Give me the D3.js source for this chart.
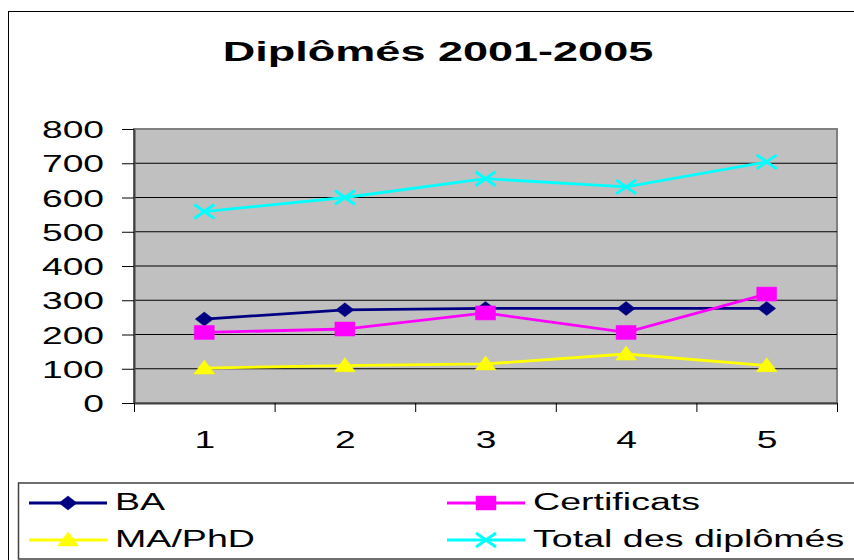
<!DOCTYPE html>
<html lang="fr">
<head>
<meta charset="UTF-8">
<title>Diplômés 2001-2005</title>
<script src="https://d3js.org/d3.v7.min.js"></script>
<style>
    body { margin: 0; background: #fff; }
    svg { display: block; font-family: "Liberation Sans", Arial, sans-serif; }
</style>
</head>
<body>
<svg width="854" height="560"></svg>
<script>
    // données
    const categories = [1, 2, 3, 4, 5];
    const ba = [245, 272, 276, 276, 276];
    const certificats = [206, 216, 263, 206, 318];
    const maPhd = [102, 109, 114, 143, 109];
    const total = [559, 600, 655, 631, 704];
    const yTicks = [0, 100, 200, 300, 400, 500, 600, 700, 800];
    const seriesNames = ["BA", "Certificats", "MA/PhD", "Total des diplômés"];

    const series = [
        { name: seriesNames[0], values: ba, color: "#000080", marker: "diamond" },
        { name: seriesNames[1], values: certificats, color: "#ff00ff", marker: "square" },
        { name: seriesNames[2], values: maPhd, color: "#ffff00", marker: "triangle" },
        { name: seriesNames[3], values: total, color: "#00ffff", marker: "cross" }
    ];

    const stretch = 1.55; // l'image d'origine est étirée horizontalement
    const plot = { left: 134, right: 837, top: 129, bottom: 403 };

    const svg = d3.select("svg");

    // cadre extérieur
    svg.append("rect")
        .attr("x", 8.5).attr("y", 11.5)
        .attr("width", 900).attr("height", 600)
        .attr("fill", "#fff").attr("stroke", "#000").attr("stroke-width", 1);

    // titre
    svg.append("text")
        .attr("transform", `translate(438,61) scale(1.58,1)`)
        .attr("text-anchor", "middle")
        .attr("font-size", 28.5).attr("font-weight", "bold")
        .text("Diplômés 2001-2005");

    const x = d3.scaleLinear().domain([0.5, 5.5]).range([plot.left, plot.right]);
    const y = d3.scaleLinear().domain([0, 800]).range([plot.bottom, plot.top]);

    // zone de traçage
    svg.append("rect")
        .attr("x", plot.left).attr("y", plot.top)
        .attr("width", plot.right - plot.left).attr("height", plot.bottom - plot.top)
        .attr("fill", "#c0c0c0").attr("stroke", "#808080").attr("stroke-width", 2);

    // quadrillage
    svg.append("g").selectAll("line")
        .data(yTicks.filter(d => d > 0 && d < 800))
        .join("line")
        .attr("x1", plot.left).attr("x2", plot.right)
        .attr("y1", d => y(d)).attr("y2", d => y(d))
        .attr("stroke", "#000").attr("stroke-width", 1.2);

    // axe Y
    const yAxis = svg.append("g")
        .attr("transform", `translate(${plot.left},0)`)
        .call(d3.axisLeft(y).tickValues(yTicks).tickSize(12).tickSizeOuter(0));
    yAxis.select(".domain").attr("stroke", "#404040").attr("stroke-width", 2);
    yAxis.selectAll(".tick line").attr("stroke", "#000");
    yAxis.selectAll(".tick text")
        .attr("x", -30 / stretch).attr("dy", "0.36em")
        .attr("transform", `scale(${stretch},1)`)
        .attr("font-size", 24).attr("font-family", "Liberation Sans, Arial, sans-serif")
        .attr("fill", "#000");

    // axe X : graduations aux limites des catégories
    const xTickAxis = svg.append("g")
        .attr("transform", `translate(0,${plot.bottom})`)
        .call(d3.axisBottom(x).tickValues(d3.range(0.5, 6, 1)).tickSize(9).tickSizeOuter(0).tickFormat(""));
    xTickAxis.select(".domain").attr("stroke", "#404040").attr("stroke-width", 2);
    xTickAxis.selectAll(".tick line").attr("stroke", "#000");

    const xLabelAxis = svg.append("g")
        .attr("transform", `translate(0,${plot.bottom})`)
        .call(d3.axisBottom(x).tickValues(categories).tickSize(0).tickFormat(d3.format("d")));
    xLabelAxis.select(".domain").remove();
    xLabelAxis.selectAll(".tick text")
        .attr("y", 45).attr("dy", 0)
        .attr("transform", `scale(${stretch},1)`)
        .attr("font-size", 24).attr("font-family", "Liberation Sans, Arial, sans-serif")
        .attr("fill", "#000");

    // formes des marqueurs
    function markerPath(type) {
        if (type === "diamond") return "M0,-7L9,0L0,7L-9,0Z";
        if (type === "square") return "M-10,-7H10V7H-10Z";
        if (type === "triangle") return "M0,-8L10.5,6H-10.5Z";
        return "M-10,-7L10,7M10,-7L-10,7";
    }
    function drawMarker(g, s) {
        const p = g.append("path").attr("d", markerPath(s.marker));
        if (s.marker === "cross") {
            p.attr("fill", "none").attr("stroke", s.color).attr("stroke-width", 3);
        } else {
            p.attr("fill", s.color).attr("stroke", s.color).attr("stroke-width", 0.5);
        }
    }

    const line = d3.line()
        .x((d, i) => x(categories[i]))
        .y(d => y(d));

    series.forEach(s => {
        const g = svg.append("g");
        g.append("path")
            .attr("d", line(s.values))
            .attr("fill", "none")
            .attr("stroke", s.color)
            .attr("stroke-width", 2.8);
        g.selectAll("g.pt")
            .data(s.values)
            .join("g")
            .attr("class", "pt")
            .attr("transform", (d, i) => `translate(${x(categories[i])},${y(d)})`)
            .each(function () { drawMarker(d3.select(this), s); });
    });

    // légende
    const legend = svg.append("g");
    legend.append("rect")
        .attr("x", 18.5).attr("y", 483)
        .attr("width", 900).attr("height", 76)
        .attr("fill", "#fff").attr("stroke", "#404040").attr("stroke-width", 1.5);

    const legendPos = [
        { x: 29, y: 503 }, { x: 447, y: 503 },
        { x: 29, y: 540 }, { x: 447, y: 540 }
    ];
    series.forEach((s, i) => {
        const p = legendPos[i];
        const item = legend.append("g").attr("transform", `translate(${p.x},${p.y})`);
        item.append("line")
            .attr("x1", 0).attr("x2", 78)
            .attr("stroke", s.color).attr("stroke-width", 2.8);
        const m = item.append("g").attr("transform", "translate(39,0)");
        drawMarker(m, s);
        item.append("text")
            .attr("transform", `translate(86,7) scale(1.6,1)`)
            .attr("font-size", 23.5)
            .attr("fill", "#000")
            .text(s.name);
    });
</script>
</body>
</html>
